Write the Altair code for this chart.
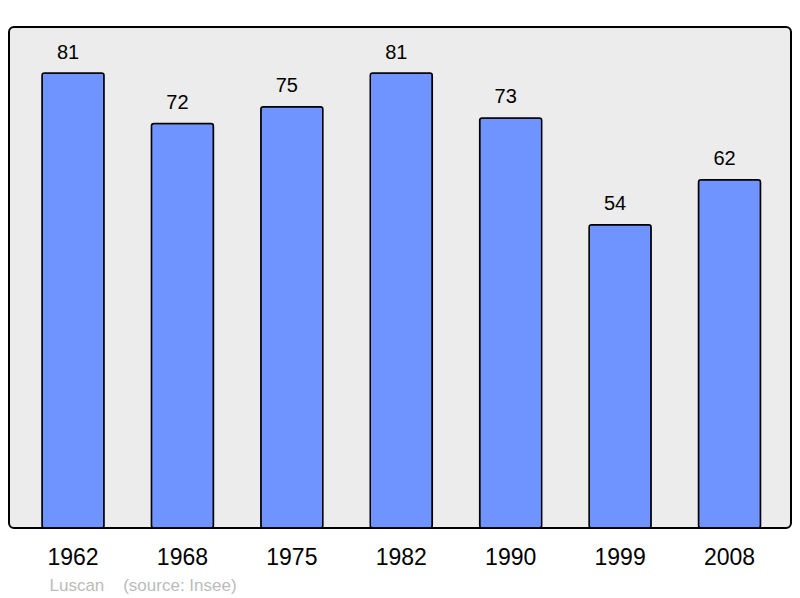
import altair as alt
import pandas as pd

years = ["1962", "1968", "1975", "1982", "1990", "1999", "2008"]
population = [81, 72, 75, 81, 73, 54, 62]

df = pd.DataFrame({"year": years, "pop": population})

x = alt.X(
    "year:N",
    sort=years,
    scale=alt.Scale(paddingInner=0.433, paddingOuter=0.29, align=0.52),
    axis=alt.Axis(
        title="Luscan\u00a0\u00a0\u00a0\u00a0(source: Insee)",
        titleAnchor="start",
        titleAlign="left",
        titleBaseline="alphabetic",
        titleX=40,
        titleY=62,
        titleFont="Liberation Sans",
        titleFontSize=17,
        titleFontWeight="normal",
        titleColor="#bbbbbb",
        labelAngle=0,
        labelFont="Liberation Sans",
        labelFontSize=23,
        labelColor="#000000",
        labelPadding=18,
        ticks=False,
        domain=False,
        grid=False,
    ),
)
y = alt.Y(
    "pop:Q",
    scale=alt.Scale(domain=[0, 89.2], nice=False, zero=True),
    axis=None,
)

bars = alt.Chart(df).mark_bar(
    color="#7094ff",
    stroke="#000000",
    strokeWidth=1.5,
    cornerRadius=2.5,
).encode(x=x, y=y)

labels = alt.Chart(df).mark_text(
    font="Liberation Sans",
    fontSize=20,
    color="#000000",
    baseline="alphabetic",
    dx=-5,
    dy=-14.5,
).encode(x=x, y=y, text="pop:Q")

chart = (
    alt.layer(bars, labels)
    .properties(
        width=782,
        height=501,
        autosize=alt.AutoSizeParams(type="none"),
        padding={"left": 1, "top": 19, "right": 1, "bottom": 68},
        background="#ffffff",
    )
    .configure_view(
        fill="#ececec",
        stroke="#000000",
        strokeWidth=2,
        cornerRadius=5,
    )
)

chart.save("out.html", embed_options={"renderer": "svg", "actions": False})
